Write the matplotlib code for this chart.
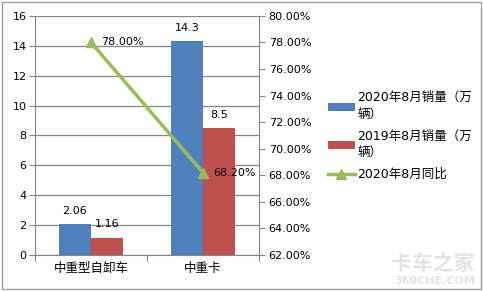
import numpy as np
import matplotlib.pyplot as plt
from matplotlib.patches import Rectangle

plt.rcParams['font.family'] = ['DejaVu Sans', 'Noto Sans CJK SC']

categories = ['中重型自卸车', '中重卡']
sales_2020 = [2.06, 14.3]
sales_2019 = [1.16, 8.5]
yoy = [78.00, 68.20]
labels_2020 = ['2.06', '14.3']
labels_2019 = ['1.16', '8.5']
yoy_labels = ['78.00%', '68.20%']

blue = '#4F81BD'
red = '#C0504D'
green = '#9BBB59'
grid_c = '#868686'

fig = plt.figure(figsize=(4.83, 2.91), dpi=100)
ax = fig.add_axes([0.0725, 0.1237, 0.4635, 0.822])
ax2 = ax.twinx()

x = np.arange(len(categories))
w = 0.286
b1 = ax.bar(x - w / 2, sales_2020, w, color=blue, label='2020年8月销量（万\n辆）', zorder=3)
b2 = ax.bar(x + w / 2, sales_2019, w, color=red, label='2019年8月销量（万\n辆）', zorder=3)

for xi, v, t in zip(x - w / 2, sales_2020, labels_2020):
    ax.text(xi, v + 0.55, t, ha='center', va='bottom', fontsize=8)
for xi, v, t in zip(x + w / 2, sales_2019, labels_2019):
    ax.text(xi, v + 0.55, t, ha='center', va='bottom', fontsize=8)

ax.set_xlim(-0.5, 1.5)
ax.set_ylim(0, 16)
ax.set_yticks(range(0, 17, 2))
ax.set_xticks([-0.5, 0.5, 1.5])
ax.set_xticklabels([])
ax.set_xticks(x, minor=True)
ax.set_xticklabels(categories, minor=True, fontsize=9, family=['Noto Sans CJK SC'])
ax.tick_params(axis='x', which='minor', length=0, pad=5)
ax.tick_params(axis='x', which='major', length=4, color=grid_c)
ax.tick_params(axis='y', length=4, color=grid_c, labelsize=8, pad=2)
ax.grid(axis='y', color=grid_c, linewidth=0.9, zorder=0)
ax.set_axisbelow(True)

for s in ['top', 'right']:
    ax.spines[s].set_visible(False)
for s in ['left', 'bottom']:
    ax.spines[s].set_color(grid_c)
for s in ['top', 'left', 'bottom']:
    ax2.spines[s].set_visible(False)
ax2.spines['right'].set_color(grid_c)

ln, = ax2.plot(x, yoy, color=green, linewidth=2.5, marker='^', markersize=7,
               label='2020年8月同比', zorder=4)
for xi, v, t in zip(x, yoy, yoy_labels):
    ax2.text(xi + 0.09, v, t, ha='left', va='center', fontsize=8)
ax2.set_ylim(62, 80)
ax2.set_yticks(np.arange(62, 81, 2))
ax2.set_yticklabels(['%.2f%%' % v for v in np.arange(62, 81, 2)])
ax2.tick_params(axis='y', length=4, color=grid_c, labelsize=8, pad=3)

leg = fig.legend(handles=[b1, b2, ln], loc='upper left', bbox_to_anchor=(0.655, 0.725),
                 frameon=False, handlelength=2.2, handleheight=0.6,
                 labelspacing=0.7, handletextpad=0.2,
                 prop={'family': ['DejaVu Sans', 'Noto Sans CJK SC'], 'size': 9})
for t in leg.get_texts():
    t.set_linespacing(1.35)

fig.patches.append(Rectangle((0.004, 0.006), 0.992, 0.988, transform=fig.transFigure,
                             fill=False, edgecolor='#a0a0a0', linewidth=1))
fig.text(0.983, 0.094, '卡车之家', ha='right', va='center', fontsize=15, color='#e3e3e3',
         family=['Noto Sans CJK SC'], weight='bold')
fig.text(0.983, 0.035, '360CHE.COM', ha='right', va='center', fontsize=8, color='#e3e3e3',
         weight='bold')

fig.savefig('out.png', dpi=100)
